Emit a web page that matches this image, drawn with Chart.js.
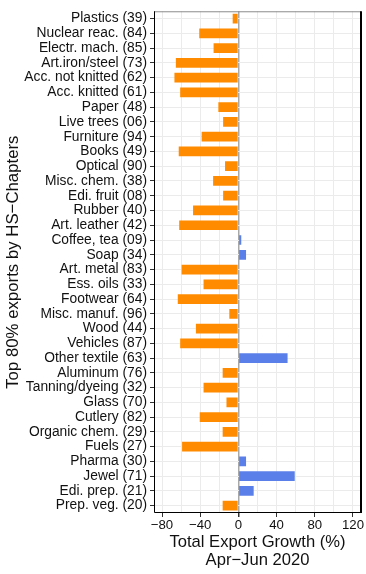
<!DOCTYPE html>
<html>
<head>
<meta charset="utf-8">
<script src="https://cdn.jsdelivr.net/npm/chart.js@4/dist/chart.umd.min.js"></script>
<style>
  html, body { margin: 0; padding: 0; background: #fff; }
  #wrap { width: 366px; height: 574px; }
</style>
</head>
<body>
<div id="wrap"><canvas id="growth"></canvas></div>
<script>
// HS chapters, top to bottom as in the figure
var chapters = [
  'Plastics (39)', 'Nuclear reac. (84)', 'Electr. mach. (85)', 'Art.iron/steel (73)',
  'Acc. not knitted (62)', 'Acc. knitted (61)', 'Paper (48)', 'Live trees (06)',
  'Furniture (94)', 'Books (49)', 'Optical (90)', 'Misc. chem. (38)',
  'Edi. fruit (08)', 'Rubber (40)', 'Art. leather (42)', 'Coffee, tea (09)',
  'Soap (34)', 'Art. metal (83)', 'Ess. oils (33)', 'Footwear (64)',
  'Misc. manuf. (96)', 'Wood (44)', 'Vehicles (87)', 'Other textile (63)',
  'Aluminum (76)', 'Tanning/dyeing (32)', 'Glass (70)', 'Cutlery (82)',
  'Organic chem. (29)', 'Fuels (27)', 'Pharma (30)', 'Jewel (71)',
  'Edi. prep. (21)', 'Prep. veg. (20)'
];
// total export growth, Apr-Jun 2020 (%)
var growth = [
  -6, -41, -26, -65.5,
  -67, -61, -21, -16,
  -38.5, -62.5, -14, -26.5,
  -16, -47.5, -62, 3,
  8, -59.5, -36.5, -63.5,
  -9.5, -44.5, -61, 51.5,
  -16.5, -36.5, -12.5, -40.5,
  -16.5, -59, 8, 59,
  16, -16.5
];
var xTicks = [-80, -40, 0, 40, 80, 120];
var xMinor = [-60, -20, 20, 60, 100];

var orange = '#FF8C00';
var blue = '#5B7FE8';
var ink = '#111111';
var gridCol = '#EBEBEB';

function fmt(v) {
  return v < 0 ? '\u2212' + Math.abs(v) : String(v);
}

// panel frame: black left/bottom/right, grey top
var panelBox = {
  id: 'panelBox',
  afterDatasetsDraw: function(chart) {
    var a = chart.chartArea, c = chart.ctx;
    c.save();
    c.lineWidth = 1;
    c.strokeStyle = '#8C8C8C';
    c.beginPath();
    c.moveTo(a.left, a.top + 0.5);
    c.lineTo(a.right, a.top + 0.5);
    c.stroke();
    c.strokeStyle = '#000';
    c.beginPath();
    c.moveTo(a.left + 0.5, a.top);
    c.lineTo(a.left + 0.5, a.bottom - 0.5);
    c.lineTo(a.right, a.bottom - 0.5);
    c.stroke();
    c.lineWidth = 2;
    c.beginPath();
    c.moveTo(a.right, a.top);
    c.lineTo(a.right, a.bottom);
    c.stroke();
    c.restore();
  }
};

new Chart(document.getElementById('growth'), {
  type: 'bar',
  data: {
    labels: chapters,
    datasets: [{
      data: growth,
      backgroundColor: growth.map(function(v) { return v < 0 ? orange : blue; }),
      borderWidth: 0,
      barPercentage: 0.66,
      categoryPercentage: 1
    }]
  },
  options: {
    indexAxis: 'y',
    responsive: true,
    maintainAspectRatio: false,
    animation: false,
    layout: { padding: { left: 0, right: 5, top: 5, bottom: 0 } },
    plugins: { legend: { display: false }, tooltip: { enabled: false } },
    scales: {
      x: {
        type: 'linear',
        min: -88.4,
        max: 128.4,
        afterBuildTicks: function(scale) {
          scale.ticks = xTicks.concat(xMinor).sort(function(a, b) { return a - b; })
            .map(function(v) { return { value: v }; });
        },
        afterFit: function(scale) { scale.height = 61; },
        border: { display: false },
        grid: {
          color: function(ctx) { return ctx.tick && ctx.tick.value === 0 ? '#A8A8A8' : gridCol; },
          lineWidth: function(ctx) { return ctx.tick && ctx.tick.value === 0 ? 1.5 : 1; },
          tickColor: function(ctx) { return xTicks.indexOf(ctx.tick.value) >= 0 ? '#333' : 'rgba(0,0,0,0)'; },
          tickLength: 4,
          drawTicks: true
        },
        ticks: {
          autoSkip: false,
          maxRotation: 0,
          padding: 0,
          color: ink,
          font: { family: 'Liberation Sans', size: 13.2 },
          callback: function(v) { return xTicks.indexOf(v) >= 0 ? fmt(v) : ''; }
        },
        title: {
          display: true,
          text: ['Total Export Growth (%)', 'Apr\u2212Jun 2020'],
          color: ink,
          font: { family: 'Liberation Sans', size: 16.6, lineHeight: 1.1 },
          padding: { top: 0, bottom: 4 }
        }
      },
      y: {
        afterFit: function(scale) { scale.width = 154; },
        border: { display: false },
        grid: {
          offset: false,
          color: gridCol,
          tickColor: '#333',
          tickLength: 4
        },
        ticks: {
          autoSkip: false,
          padding: 3,
          color: ink,
          font: { family: 'Liberation Sans', size: 13.8 }
        },
        title: {
          display: true,
          text: 'Top 80% exports by HS\u2212Chapters',
          color: ink,
          font: { family: 'Liberation Sans', size: 16.8 },
          padding: { top: 3, bottom: 0 }
        }
      }
    }
  },
  plugins: [panelBox]
});
</script>
</body>
</html>
